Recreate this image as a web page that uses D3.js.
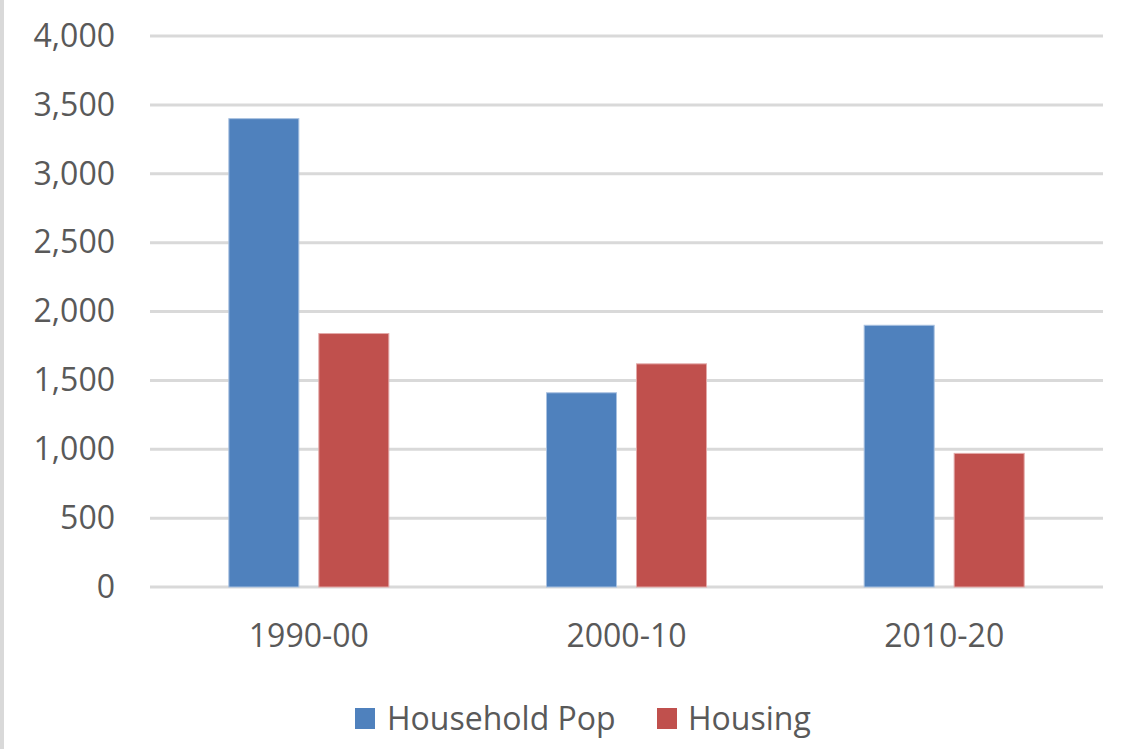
<!DOCTYPE html>
<html>
<head>
<meta charset="utf-8">
<script src="https://cdn.jsdelivr.net/npm/d3@7"></script>
<style>
  html, body { margin: 0; padding: 0; background: #fff; }
  svg { display: block; }
  text { font-family: "Open Sans", "Noto Sans", sans-serif; fill: #595959; }
</style>
</head>
<body>
<svg id="chart" width="1129" height="749"></svg>
<script>
// Change per decade
const periods = ["1990-00", "2000-10", "2010-20"];
const seriesNames = ["Household Pop", "Housing"];
const householdPop = [3400, 1410, 1900];
const housing = [1840, 1620, 970];
const yTicks = [0, 500, 1000, 1500, 2000, 2500, 3000, 3500, 4000];
const colors = ["#4F81BD", "#C0504D"];
const strokes = ["#a9c1e0", "#e3a9a8"];

const rows = periods.map((p, i) => ({ period: p, values: [householdPop[i], housing[i]] }));

const svg = d3.select("#chart");
const W = 1129, H = 749;
const plot = { left: 150, right: 1103, top: 36, bottom: 587 };

// Frame line on the left edge
svg.append("rect").attr("x", 0).attr("y", 0).attr("width", 4).attr("height", H).attr("fill", "#d9d9d9");

const y = d3.scaleLinear().domain([0, 4000]).range([plot.bottom, plot.top]);
const x0 = d3.scaleBand().domain(periods).range([plot.left, plot.right]).padding(0);
const x1 = d3.scaleBand().domain(seriesNames).range([0, x0.bandwidth()])
  .paddingInner(0.222).paddingOuter(0.876);

// Gridlines
svg.append("g").selectAll("line").data(yTicks).join("line")
  .attr("x1", plot.left).attr("x2", plot.right)
  .attr("y1", d => y(d)).attr("y2", d => y(d))
  .attr("stroke", "#d9d9d9").attr("stroke-width", 3);

// Y axis labels
const yAxis = d3.axisLeft(y).tickValues(yTicks).tickFormat(d3.format(",")).tickSize(0).tickPadding(0);
const gy = svg.append("g").attr("transform", "translate(115,0)").call(yAxis);
gy.select(".domain").remove();
gy.selectAll("text").attr("font-size", 32).attr("fill", "#595959")
  .style("font-family", '"Open Sans", "Noto Sans", sans-serif');

// Bars
const groups = svg.append("g").selectAll("g").data(rows).join("g")
  .attr("transform", d => `translate(${x0(d.period)},0)`);
groups.selectAll("rect").data(d => d.values.map((v, k) => ({ k, v }))).join("rect")
  .attr("x", d => x1(seriesNames[d.k]))
  .attr("width", x1.bandwidth())
  .attr("y", d => y(d.v))
  .attr("height", d => y(0) - y(d.v))
  .attr("fill", d => colors[d.k])
  .attr("stroke", d => strokes[d.k]).attr("stroke-width", 1);

// X axis labels
const xAxis = d3.axisBottom(x0).tickSize(0).tickPadding(0);
const gx = svg.append("g").attr("transform", `translate(0,${plot.bottom})`).call(xAxis);
gx.select(".domain").remove();
gx.selectAll("text").attr("font-size", 32).attr("fill", "#595959").attr("dy", null)
  .attr("y", 60).style("font-family", '"Open Sans", "Noto Sans", sans-serif');

// Legend
const legendItems = [
  { name: seriesNames[0], color: colors[0], sx: 355, tx: 387 },
  { name: seriesNames[1], color: colors[1], sx: 657, tx: 688 }
];
const lg = svg.append("g");
lg.selectAll("rect").data(legendItems).join("rect")
  .attr("x", d => d.sx).attr("y", 708).attr("width", 20).attr("height", 21)
  .attr("fill", d => d.color);
lg.selectAll("text").data(legendItems).join("text")
  .attr("x", d => d.tx).attr("y", 730).attr("font-size", 32)
  .text(d => d.name);
</script>
</body>
</html>
